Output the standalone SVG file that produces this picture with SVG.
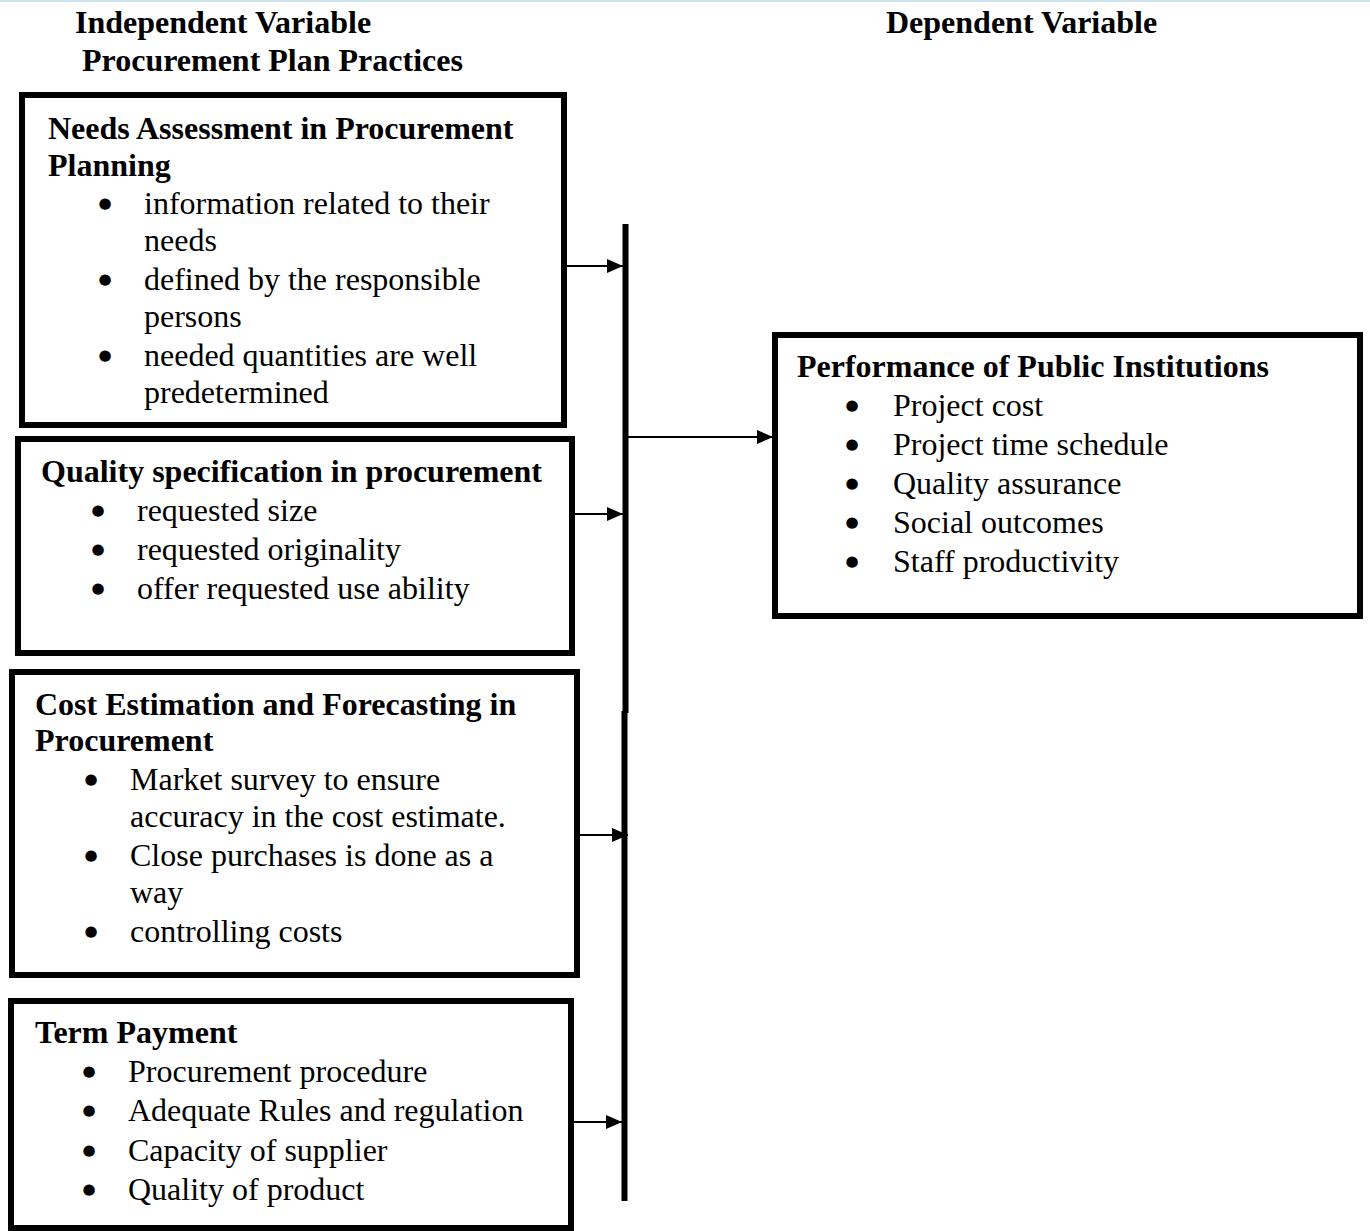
<svg xmlns="http://www.w3.org/2000/svg" width="1370" height="1231" viewBox="0 0 1370 1231">
<style>
text{font-family:"Liberation Serif","Times New Roman",serif;font-size:32px;fill:#000}
.h{font-weight:bold}
.b{text-anchor:middle;font-family:"DejaVu Sans",sans-serif;font-size:15px}
.box{fill:none;stroke:#000;stroke-width:6}
.bar{stroke:#000;stroke-width:6;fill:none}
.ar{stroke:#000;stroke-width:2;fill:none;marker-end:url(#ah)}
</style>
<defs>
<marker id="ah" markerUnits="userSpaceOnUse" markerWidth="18" markerHeight="16" refX="16" refY="7" orient="auto">
<path d="M0,0 L16,7 L0,14 Z" fill="#000"/>
</marker>
</defs>
<rect x="0" y="0" width="1370" height="1231" fill="#fff"/>
<rect x="0" y="0" width="1370" height="2" fill="#cfe2f0"/>

<g id="titles">
<text class="h" x="75" y="33">Independent Variable</text>
<text class="h" x="82" y="71">Procurement Plan Practices</text>
<text class="h" x="886" y="33">Dependent Variable</text>
</g>

<g id="needs">
<rect class="box" x="22" y="95" width="542" height="330"/>
<text class="h" x="48" y="139">Needs Assessment in Procurement</text>
<text class="h" x="48" y="176">Planning</text>
<text class="b" x="105" y="208">●</text>
<text x="144" y="214">information related to their</text>
<text x="144" y="251">needs</text>
<text class="b" x="105" y="284">●</text>
<text x="144" y="290">defined by the responsible</text>
<text x="144" y="327">persons</text>
<text class="b" x="105" y="360">●</text>
<text x="144" y="366">needed quantities are well</text>
<text x="144" y="403">predetermined</text>
</g>

<g id="quality">
<rect class="box" x="18" y="439" width="554" height="214"/>
<text class="h" x="41" y="482">Quality specification in procurement</text>
<text class="b" x="98" y="515">●</text>
<text x="137" y="521">requested size</text>
<text class="b" x="98" y="554">●</text>
<text x="137" y="560">requested originality</text>
<text class="b" x="98" y="593">●</text>
<text x="137" y="599">offer requested use ability</text>
</g>

<g id="cost">
<rect class="box" x="12" y="672" width="565" height="303"/>
<text class="h" x="35" y="715">Cost Estimation and Forecasting in</text>
<text class="h" x="35" y="751">Procurement</text>
<text class="b" x="91" y="784">●</text>
<text x="130" y="790">Market survey to ensure</text>
<text x="130" y="827">accuracy in the cost estimate.</text>
<text class="b" x="91" y="860">●</text>
<text x="130" y="866">Close purchases is done as a</text>
<text x="130" y="903">way</text>
<text class="b" x="91" y="936">●</text>
<text x="130" y="942">controlling costs</text>
</g>

<g id="term">
<rect class="box" x="11" y="1001" width="560" height="227"/>
<text class="h" x="35" y="1043">Term Payment</text>
<text class="b" x="89" y="1076">●</text>
<text x="128" y="1082">Procurement procedure</text>
<text class="b" x="89" y="1115">●</text>
<text x="128" y="1121">Adequate Rules and regulation</text>
<text class="b" x="89" y="1155">●</text>
<text x="128" y="1161">Capacity of supplier</text>
<text class="b" x="89" y="1194">●</text>
<text x="128" y="1200">Quality of product</text>
</g>

<g id="performance">
<rect class="box" x="775" y="335" width="585" height="281"/>
<text class="h" x="797" y="377">Performance of Public Institutions</text>
<text class="b" x="852" y="410">●</text>
<text x="893" y="416">Project cost</text>
<text class="b" x="852" y="449">●</text>
<text x="893" y="455">Project time schedule</text>
<text class="b" x="852" y="488">●</text>
<text x="893" y="494">Quality assurance</text>
<text class="b" x="852" y="527">●</text>
<text x="893" y="533">Social outcomes</text>
<text class="b" x="852" y="566">●</text>
<text x="893" y="572">Staff productivity</text>
</g>

<g id="connectors">
<line class="bar" x1="625.5" y1="224" x2="625.5" y2="713"/>
<line class="bar" x1="624.5" y1="711" x2="624.5" y2="1201"/>
<line class="ar" x1="567" y1="266" x2="623" y2="266"/>
<line class="ar" x1="570" y1="514" x2="623" y2="514"/>
<line class="ar" x1="580" y1="835" x2="628" y2="835"/>
<line class="ar" x1="574" y1="1122" x2="622" y2="1122"/>
<line class="ar" x1="628" y1="437" x2="773" y2="437"/>
</g>
</svg>
